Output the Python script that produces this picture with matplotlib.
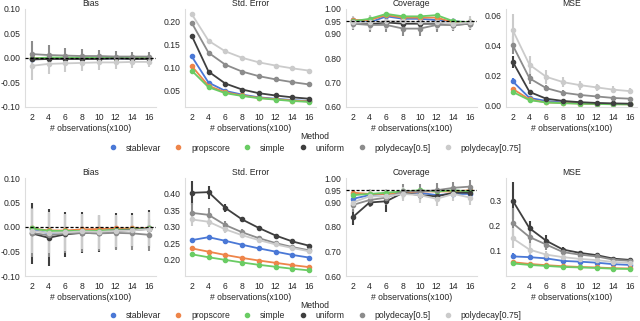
import numpy as np
import matplotlib
matplotlib.use("Agg")
import matplotlib.pyplot as plt
from matplotlib.lines import Line2D

plt.rcParams['font.family'] = ['Liberation Sans', 'DejaVu Sans']
plt.rcParams['font.size'] = 6.2
plt.rcParams['text.color'] = '#262626'
plt.rcParams['axes.labelcolor'] = '#262626'
plt.rcParams['xtick.color'] = '#262626'
plt.rcParams['ytick.color'] = '#262626'

# x axis: number of observations (x100)
n_obs = [2, 4, 6, 8, 10, 12, 14, 16]

methods = ['stablevar', 'propscore', 'simple', 'uniform', 'polydecay[0.5]', 'polydecay[0.75]']
colors = ['#4a78d6', '#ee854a', '#6acc64', '#3f3f3f', '#8c8c8c', '#cbcbcb']

titles = ['Bias', 'Std. Error', 'Coverage', 'MSE']

# ---------------- top row ----------------
bias_top = [
    [-0.002, -0.001, -0.001, -0.001, -0.001, -0.001, -0.001, -0.001],
    [-0.001, 0.000, 0.000, 0.000, 0.000, 0.000, 0.000, 0.000],
    [-0.001, 0.001, 0.001, 0.001, 0.001, 0.001, 0.000, 0.000],
    [-0.003, -0.002, -0.002, -0.002, -0.002, -0.001, -0.002, -0.002],
    [0.008, 0.006, 0.005, 0.004, 0.004, 0.003, 0.003, 0.003],
    [-0.016, -0.012, -0.011, -0.010, -0.009, -0.009, -0.008, -0.008],
]
bias_top_err = [
    [0.004, 0.003, 0.002, 0.002, 0.002, 0.002, 0.002, 0.002],
    [0.003, 0.002, 0.002, 0.002, 0.002, 0.002, 0.002, 0.002],
    [0.003, 0.002, 0.002, 0.002, 0.002, 0.002, 0.002, 0.002],
    [0.006, 0.004, 0.003, 0.003, 0.002, 0.002, 0.002, 0.002],
    [0.026, 0.020, 0.016, 0.014, 0.012, 0.011, 0.010, 0.009],
    [0.028, 0.020, 0.018, 0.016, 0.015, 0.013, 0.012, 0.011],
]
se_top = [
    [0.125, 0.068, 0.050, 0.042, 0.036, 0.033, 0.030, 0.028],
    [0.104, 0.061, 0.047, 0.040, 0.035, 0.032, 0.029, 0.027],
    [0.094, 0.058, 0.045, 0.039, 0.034, 0.031, 0.028, 0.026],
    [0.170, 0.092, 0.066, 0.053, 0.045, 0.040, 0.036, 0.033],
    [0.198, 0.133, 0.107, 0.092, 0.082, 0.075, 0.069, 0.064],
    [0.217, 0.159, 0.136, 0.122, 0.112, 0.105, 0.099, 0.094],
]
se_top_err = [[0.002] * 8 for _ in methods]
cov_top = [
    [0.955, 0.945, 0.970, 0.960, 0.960, 0.955, 0.950, 0.945],
    [0.955, 0.955, 0.975, 0.965, 0.965, 0.965, 0.945, 0.945],
    [0.950, 0.960, 0.980, 0.970, 0.970, 0.975, 0.950, 0.945],
    [0.945, 0.940, 0.945, 0.940, 0.940, 0.940, 0.935, 0.940],
    [0.940, 0.935, 0.935, 0.920, 0.920, 0.935, 0.935, 0.940],
    [0.945, 0.945, 0.950, 0.950, 0.945, 0.945, 0.940, 0.945],
]
cov_top_err = [
    [0.010, 0.010, 0.008, 0.008, 0.008, 0.008, 0.008, 0.008],
    [0.010, 0.010, 0.008, 0.008, 0.008, 0.008, 0.008, 0.008],
    [0.010, 0.010, 0.008, 0.008, 0.008, 0.008, 0.008, 0.008],
    [0.020, 0.025, 0.025, 0.025, 0.025, 0.025, 0.020, 0.020],
    [0.025, 0.030, 0.030, 0.030, 0.030, 0.030, 0.025, 0.025],
    [0.025, 0.030, 0.030, 0.025, 0.025, 0.025, 0.025, 0.025],
]
mse_top = [
    [0.016, 0.005, 0.003, 0.0020, 0.0015, 0.0012, 0.0010, 0.0010],
    [0.011, 0.004, 0.002, 0.0017, 0.0013, 0.0010, 0.0009, 0.0008],
    [0.009, 0.0035, 0.002, 0.0015, 0.0012, 0.0010, 0.0008, 0.0007],
    [0.029, 0.009, 0.0045, 0.0030, 0.0022, 0.0017, 0.0014, 0.0012],
    [0.040, 0.018, 0.0115, 0.0085, 0.0070, 0.0060, 0.0050, 0.0045],
    [0.050, 0.027, 0.019, 0.0155, 0.0135, 0.0120, 0.0105, 0.0095],
]
mse_top_err = [
    [0.002, 0.0006, 0.0004, 0.0003, 0.0002, 0.0002, 0.0002, 0.0002],
    [0.0015, 0.0005, 0.0003, 0.0002, 0.0002, 0.0002, 0.0002, 0.0002],
    [0.0012, 0.0005, 0.0003, 0.0002, 0.0002, 0.0002, 0.0002, 0.0002],
    [0.004, 0.0012, 0.0006, 0.0004, 0.0003, 0.0003, 0.0002, 0.0002],
    [0.006, 0.0035, 0.0022, 0.0015, 0.0012, 0.0010, 0.0009, 0.0008],
    [0.011, 0.006, 0.0045, 0.0035, 0.0030, 0.0025, 0.0022, 0.0018],
]

# ---------------- bottom row ----------------
bias_bot = [
    [-0.005, -0.013, -0.010, -0.008, -0.008, -0.005, -0.004, -0.002],
    [-0.003, -0.007, -0.007, -0.005, -0.004, -0.003, -0.003, -0.002],
    [-0.003, -0.008, -0.008, -0.008, -0.008, -0.006, -0.005, -0.003],
    [-0.013, -0.022, -0.015, -0.012, -0.013, -0.008, -0.006, -0.004],
    [-0.012, -0.017, -0.013, -0.012, -0.013, -0.012, -0.013, -0.016],
    [-0.008, -0.012, -0.011, -0.009, -0.010, -0.008, -0.007, -0.004],
]
bias_bot_err = [
    [0.010, 0.010, 0.008, 0.008, 0.008, 0.008, 0.008, 0.008],
    [0.008, 0.008, 0.007, 0.007, 0.007, 0.007, 0.007, 0.007],
    [0.008, 0.008, 0.007, 0.007, 0.007, 0.007, 0.007, 0.007],
    [0.062, 0.058, 0.046, 0.042, 0.037, 0.036, 0.035, 0.038],
    [0.050, 0.045, 0.040, 0.038, 0.035, 0.034, 0.033, 0.032],
    [0.045, 0.042, 0.038, 0.036, 0.034, 0.033, 0.032, 0.034],
]
se_bot = [
    [0.259, 0.268, 0.257, 0.245, 0.234, 0.224, 0.214, 0.206],
    [0.234, 0.224, 0.214, 0.205, 0.197, 0.190, 0.183, 0.177],
    [0.216, 0.207, 0.199, 0.191, 0.184, 0.178, 0.172, 0.167],
    [0.403, 0.405, 0.357, 0.322, 0.296, 0.273, 0.255, 0.242],
    [0.342, 0.336, 0.305, 0.283, 0.265, 0.250, 0.238, 0.228],
    [0.322, 0.315, 0.292, 0.274, 0.259, 0.246, 0.235, 0.225],
]
se_bot_err = [
    [0.008, 0.008, 0.005, 0.004, 0.003, 0.003, 0.003, 0.003],
    [0.003, 0.003, 0.002, 0.002, 0.002, 0.002, 0.002, 0.002],
    [0.003, 0.003, 0.002, 0.002, 0.002, 0.002, 0.002, 0.002],
    [0.036, 0.020, 0.012, 0.008, 0.005, 0.004, 0.003, 0.003],
    [0.030, 0.022, 0.013, 0.009, 0.006, 0.005, 0.004, 0.004],
    [0.020, 0.016, 0.010, 0.007, 0.005, 0.004, 0.004, 0.004],
]
cov_bot = [
    [0.915, 0.930, 0.935, 0.940, 0.940, 0.930, 0.935, 0.935],
    [0.940, 0.935, 0.935, 0.940, 0.945, 0.945, 0.945, 0.950],
    [0.930, 0.935, 0.940, 0.945, 0.950, 0.945, 0.950, 0.945],
    [0.840, 0.900, 0.905, 0.940, 0.930, 0.925, 0.940, 0.940],
    [0.890, 0.910, 0.920, 0.945, 0.945, 0.950, 0.960, 0.965],
    [0.900, 0.925, 0.925, 0.935, 0.930, 0.915, 0.935, 0.920],
]
cov_bot_err = [
    [0.012, 0.010, 0.010, 0.010, 0.010, 0.010, 0.010, 0.010],
    [0.012, 0.010, 0.010, 0.010, 0.010, 0.010, 0.010, 0.010],
    [0.012, 0.010, 0.010, 0.010, 0.010, 0.010, 0.010, 0.010],
    [0.030, 0.020, 0.045, 0.020, 0.020, 0.020, 0.015, 0.015],
    [0.030, 0.030, 0.030, 0.030, 0.030, 0.030, 0.025, 0.025],
    [0.025, 0.030, 0.030, 0.030, 0.030, 0.030, 0.030, 0.030],
]
mse_bot = [
    [0.078, 0.075, 0.070, 0.060, 0.057, 0.053, 0.047, 0.044],
    [0.055, 0.048, 0.043, 0.039, 0.036, 0.034, 0.031, 0.030],
    [0.050, 0.044, 0.040, 0.036, 0.034, 0.032, 0.029, 0.028],
    [0.300, 0.190, 0.140, 0.105, 0.092, 0.083, 0.069, 0.064],
    [0.210, 0.155, 0.125, 0.095, 0.085, 0.078, 0.065, 0.060],
    [0.150, 0.105, 0.085, 0.075, 0.068, 0.063, 0.056, 0.052],
]
mse_bot_err = [
    [0.012, 0.009, 0.007, 0.006, 0.005, 0.005, 0.004, 0.004],
    [0.005, 0.004, 0.003, 0.003, 0.003, 0.003, 0.003, 0.003],
    [0.005, 0.004, 0.003, 0.003, 0.003, 0.003, 0.003, 0.003],
    [0.075, 0.030, 0.025, 0.012, 0.008, 0.007, 0.005, 0.004],
    [0.060, 0.035, 0.020, 0.012, 0.008, 0.007, 0.005, 0.004],
    [0.040, 0.025, 0.015, 0.010, 0.007, 0.006, 0.005, 0.004],
]

rows = [
    [(bias_top, bias_top_err), (se_top, se_top_err), (cov_top, cov_top_err), (mse_top, mse_top_err)],
    [(bias_bot, bias_bot_err), (se_bot, se_bot_err), (cov_bot, cov_bot_err), (mse_bot, mse_bot_err)],
]

yticks = [
    [[-0.10, -0.05, 0.0, 0.05, 0.10], [0.05, 0.10, 0.15, 0.20], [0.6, 0.7, 0.8, 0.9, 0.95, 1.0], [0.0, 0.02, 0.04, 0.06]],
    [[-0.10, -0.05, 0.0, 0.05, 0.10], [0.20, 0.25, 0.30, 0.35, 0.40], [0.6, 0.7, 0.8, 0.9, 0.95, 1.0], [0.1, 0.2, 0.3]],
]
ylims = [
    [(-0.1, 0.1), (0.015, 0.228), (0.6, 1.0), (-0.001, 0.064)],
    [(-0.1, 0.1), (0.15, 0.448), (0.6, 1.0), (0.0, 0.39)],
]
yfmt = [['%.2f', '%.2f', '%.2f', '%.2f'], ['%.2f', '%.2f', '%.2f', '%.1f']]
ref_lines = [0.0, None, 0.95, None]

fig = plt.figure(figsize=(6.4, 3.21), dpi=100)
W, H = 640.0, 321.0
lefts = [25, 185, 346, 506]
row_top = [9, 178]
ax_w, ax_h = 131, 98

for r in range(2):
    for c in range(4):
        ax = fig.add_axes([lefts[c] / W, 1 - (row_top[r] + ax_h) / H, ax_w / W, ax_h / H])
        vals, errs = rows[r][c]
        for i, m in enumerate(methods):
            ax.errorbar(n_obs, vals[i], yerr=errs[i], color=colors[i], lw=1.3,
                        elinewidth=1.5, marker='o', ms=3, capsize=0)
        if ref_lines[c] is not None:
            ax.axhline(ref_lines[c], color='black', ls='--', lw=0.9, dashes=(2.5, 1.5), zorder=5)
        ax.set_xlim(1.2, 16.8)
        ax.set_ylim(*ylims[r][c])
        ax.set_xticks(n_obs)
        ax.set_yticks(yticks[r][c])
        ax.set_yticklabels([yfmt[r][c] % v for v in yticks[r][c]])
        ax.tick_params(axis='y', length=0, pad=3.5, labelsize=6.2)
        ax.tick_params(axis='x', length=0, pad=4, labelsize=6.2)
        ax.set_title(titles[c], fontsize=6.2, pad=2)
        ax.set_xlabel('# observations(x100)', fontsize=6.2, labelpad=1.5)
        for s in ['top', 'right']:
            ax.spines[s].set_visible(False)
        for s in ['left', 'bottom']:
            ax.spines[s].set_color('#dddddd')
            ax.spines[s].set_linewidth(0.8)

# legends
handles = [Line2D([], [], ls='none', marker='o', ms=3, color=col) for col in colors]
for ymeth, yleg in [(137, 148), (306, 316)]:
    fig.text(315 / W, 1 - ymeth / H, 'Method', ha='center', va='center', fontsize=6.2)
    fig.legend(handles, methods, loc='center', bbox_to_anchor=(315 / W, 1 - yleg / H),
               ncol=6, frameon=False, fontsize=6.2, handletextpad=1.0, columnspacing=1.5,
               handlelength=1.0, borderpad=0)

fig.savefig('out.png', dpi=100)
